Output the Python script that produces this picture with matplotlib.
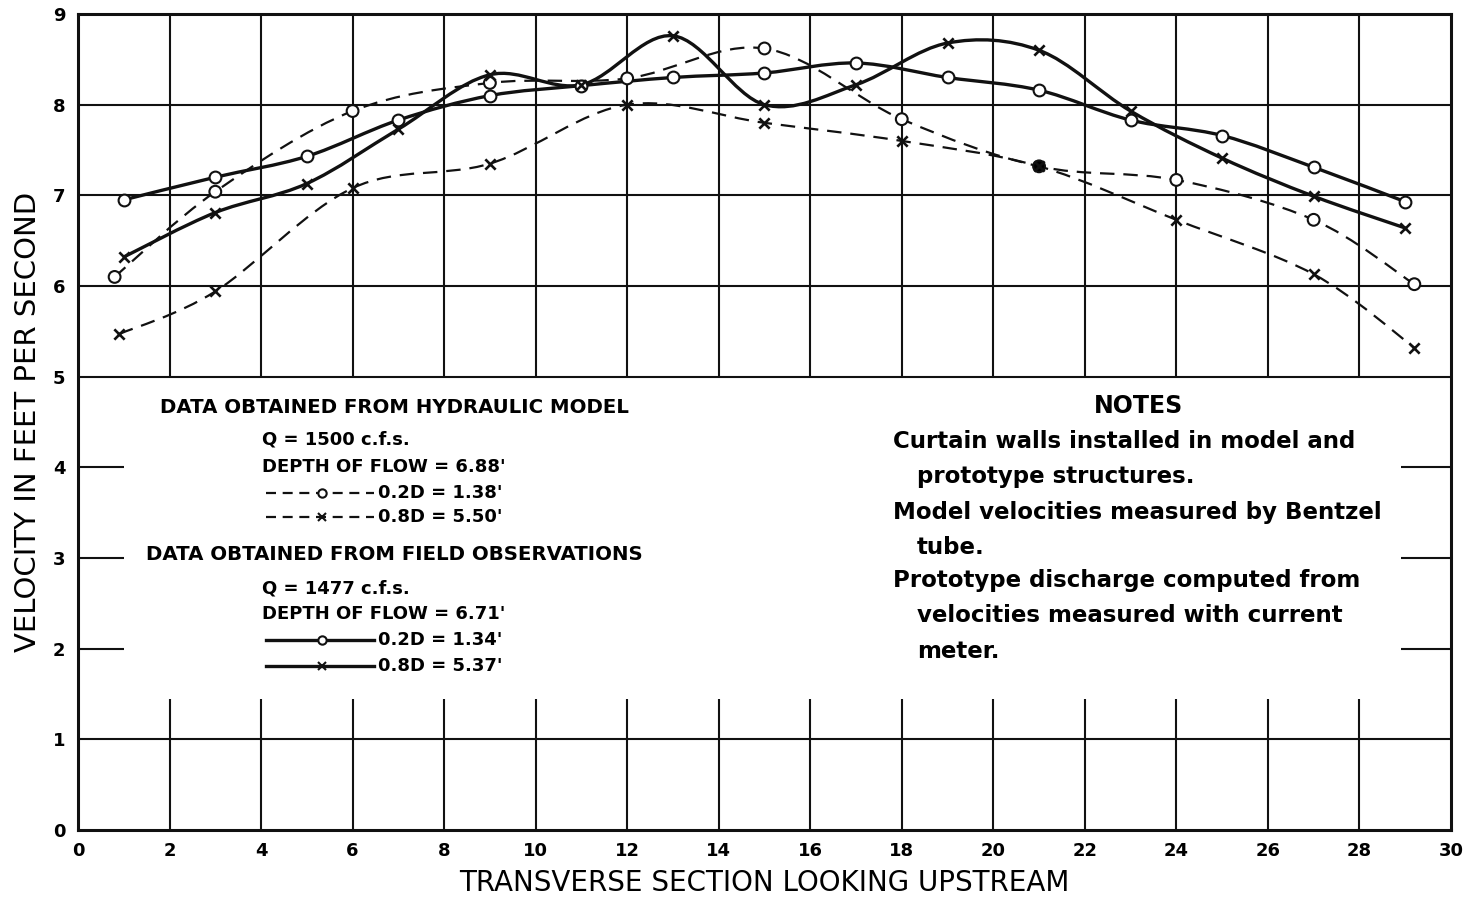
import numpy as np
import matplotlib
matplotlib.use("Agg")
import matplotlib.pyplot as plt
from matplotlib.path import Path
from matplotlib.patches import PathPatch
from matplotlib.lines import Line2D

# ─── Data ────────────────────────────────────────────────────────────────────
model_02_x = [0.8, 3, 6, 9, 12, 15, 18, 21, 24, 27, 29.2]
model_02_v = [6.10, 7.04, 7.93, 8.24, 8.29, 8.62, 7.84, 7.32, 7.17, 6.73, 6.02]

model_08_x = [0.9, 3, 6, 9, 12, 15, 18, 21, 24, 27, 29.2]
model_08_v = [5.47, 5.94, 7.08, 7.35, 8.00, 7.80, 7.60, 7.32, 6.73, 6.13, 5.32]

field_x = [1, 3, 5, 7, 9, 11, 13, 15, 17, 19, 21, 23, 25, 27, 29]
field_02_v = [6.95, 7.20, 7.43, 7.83, 8.10, 8.21, 8.30, 8.35, 8.46, 8.30,
              8.16, 7.83, 7.66, 7.31, 6.93]
field_08_v = [6.32, 6.81, 7.13, 7.73, 8.33, 8.22, 8.76, 8.00, 8.22, 8.68,
              8.60, 7.93, 7.41, 6.99, 6.64]

x_ticks = list(range(0, 31, 2))
y_ticks = list(range(0, 10))

BLACK = "#111111"


def smooth_path(xs, ys):
    """Catmull-Rom curve through the points as cubic Bezier segments."""
    pts = np.column_stack([xs, ys]).astype(float)
    n = len(pts)
    verts = [pts[0]]
    codes = [Path.MOVETO]
    for i in range(n - 1):
        p0 = pts[max(i - 1, 0)]
        p1 = pts[i]
        p2 = pts[i + 1]
        p3 = pts[min(i + 2, n - 1)]
        verts += [p1 + (p2 - p0) / 6, p2 - (p3 - p1) / 6, p2]
        codes += [Path.CURVE4] * 3
    return Path(verts, codes)


def draw_curve(ax, xs, ys, lw, ls):
    patch = PathPatch(smooth_path(xs, ys), facecolor="none", edgecolor=BLACK,
                      linewidth=lw, linestyle=ls, capstyle="butt", zorder=3)
    ax.add_patch(patch)


fig = plt.figure(figsize=(14.69, 8.99), dpi=100)
ax = fig.add_axes([0.0531, 0.0768, 0.9346, 0.9076])
ax.set_xlim(0, 30)
ax.set_ylim(0, 9)

# ─── Grid (broken around the text panel) ─────────────────────────────────────
grid_kw = dict(color=BLACK, linewidth=1.5, zorder=1)
ax.hlines([1, 5, 6, 7, 8], 0, 30, **grid_kw)
ax.hlines([2, 3, 4], 0, 1.0, **grid_kw)
ax.hlines([2, 3, 4], 28.9, 30, **grid_kw)
ax.vlines(x_ticks[1:-1], 5, 9, **grid_kw)
ax.vlines(x_ticks[1:-1], 0, 1.45, **grid_kw)

for s in ax.spines.values():
    s.set_linewidth(2.2)
    s.set_color(BLACK)

# ─── Curves ──────────────────────────────────────────────────────────────────
dash = (0, (6.5, 4))
draw_curve(ax, model_02_x, model_02_v, 1.6, dash)
draw_curve(ax, model_08_x, model_08_v, 1.6, dash)
draw_curve(ax, field_x, field_02_v, 2.4, "-")
draw_curve(ax, field_x, field_08_v, 2.4, "-")

m02_face = ["black" if x == 21 else "white" for x in model_02_x]
ax.scatter(model_02_x, model_02_v, s=72, facecolors=m02_face,
           edgecolors=BLACK, linewidths=1.5, zorder=5)
ax.scatter(field_x, field_02_v, s=72, facecolors="white",
           edgecolors=BLACK, linewidths=1.5, zorder=5)
ax.scatter(model_08_x, model_08_v, s=55, marker="x", color=BLACK,
           linewidths=1.9, zorder=5)
ax.scatter(field_x, field_08_v, s=55, marker="x", color=BLACK,
           linewidths=1.9, zorder=5)

# ─── Axes text ───────────────────────────────────────────────────────────────
ax.set_xticks(x_ticks)
ax.set_yticks(y_ticks)
ax.set_xticklabels([str(t) for t in x_ticks], fontsize=13, fontweight="bold")
ax.set_yticklabels([str(t) for t in y_ticks], fontsize=13, fontweight="bold")
ax.tick_params(length=0, pad=9)
ax.set_xlabel("TRANSVERSE SECTION LOOKING UPSTREAM", fontsize=20, labelpad=6)
ax.set_ylabel("VELOCITY IN FEET PER SECOND", fontsize=21, labelpad=8)

# ─── Legend / data block ─────────────────────────────────────────────────────
def px(x, y):
    return x / 1469, 1 - y / 899

head = dict(fontsize=14.2, fontweight="bold", va="center", ha="left",
            transform=fig.transFigure)
body = dict(fontsize=13, fontweight="bold", va="center", ha="left",
            transform=fig.transFigure)
fig.text(*px(160, 408), "DATA OBTAINED FROM HYDRAULIC MODEL", **head)
fig.text(*px(262, 440), "Q = 1500 c.f.s.", **body)
fig.text(*px(262, 467), "DEPTH OF FLOW = 6.88'", **body)
fig.text(*px(378, 493), "0.2D = 1.38'", **body)
fig.text(*px(378, 517), "0.8D = 5.50'", **body)
fig.text(*px(146, 554), "DATA OBTAINED FROM FIELD OBSERVATIONS", **head)
fig.text(*px(262, 589), "Q = 1477 c.f.s.", **body)
fig.text(*px(262, 614), "DEPTH OF FLOW = 6.71'", **body)
fig.text(*px(378, 640), "0.2D = 1.34'", **body)
fig.text(*px(378, 666), "0.8D = 5.37'", **body)

samples = [(493, "o", (0, (4.5, 3)), 1.6), (517, "x", (0, (4.5, 3)), 1.6),
           (640, "o", "-", 2.4), (666, "x", "-", 2.4)]
for yy, mk, ls, lw in samples:
    (x0, y0), (x1, _) = px(266, yy), px(374, yy)
    fig.add_artist(Line2D([x0, x1], [y0, y0], color=BLACK, linestyle=ls,
                          linewidth=lw, transform=fig.transFigure))
    mx, _ = px(322, yy)
    fig.add_artist(Line2D([mx], [y0], marker=mk, markersize=6,
                          markerfacecolor="white", markeredgecolor=BLACK,
                          markeredgewidth=1.5, linestyle="none",
                          transform=fig.transFigure))

# ─── Notes ───────────────────────────────────────────────────────────────────
note = dict(fontsize=16.5, fontweight="bold", va="center", ha="left",
            transform=fig.transFigure)
fig.text(*px(1138, 406), "NOTES", fontsize=17, fontweight="bold",
         va="center", ha="center", transform=fig.transFigure)
fig.text(*px(893, 441), "Curtain walls installed in model and", **note)
fig.text(*px(917, 476), "prototype structures.", **note)
fig.text(*px(893, 512), "Model velocities measured by Bentzel", **note)
fig.text(*px(917, 547), "tube.", **note)
fig.text(*px(893, 581), "Prototype discharge computed from", **note)
fig.text(*px(917, 615), "velocities measured with current", **note)
fig.text(*px(917, 651), "meter.", **note)

fig.savefig("out.png", dpi=100)
